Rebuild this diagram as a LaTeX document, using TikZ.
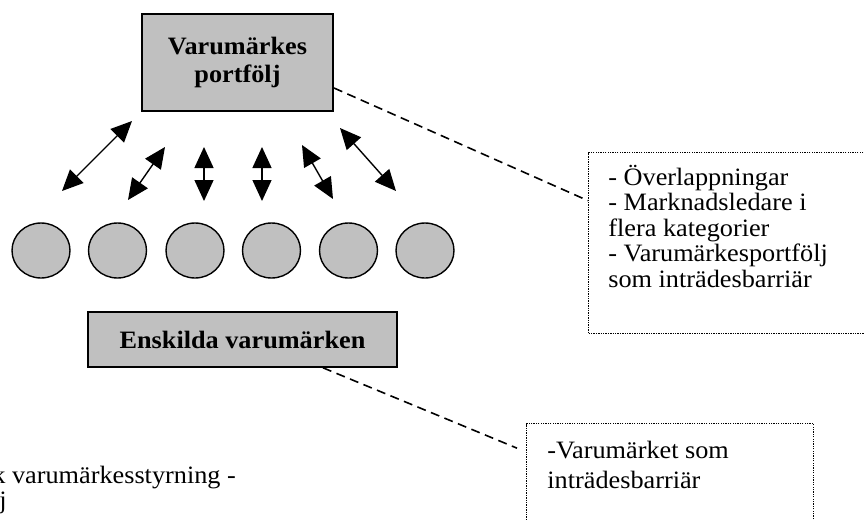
\documentclass[tikz,border=0pt]{standalone}
\usepackage{fontspec}
\setmainfont{Liberation Serif}[FakeStretch=1.05]
\usetikzlibrary{arrows.meta,positioning,shapes.geometric}
\definecolor{boxgray}{HTML}{C0C0C0}
\newcommand\notestrut{\rule{0pt}{10.5pt}}

\begin{document}
\begin{tikzpicture}[x=0.5pt,y=-0.5pt,
        font=\fontsize{12.5}{12.75}\selectfont,
        main box/.style={rectangle,draw,fill=boxgray,align=center,inner sep=0pt,
                         font=\fontsize{12.5}{14}\selectfont\bfseries},
        brand node/.style={ellipse,draw,fill=boxgray,line width=0.7pt,
                           minimum width=29pt,minimum height=27.5pt,inner sep=0pt},
        note box/.style={rectangle,draw,line width=0.65pt,dash pattern=on 0.65pt off 0.55pt,
                         anchor=north west,inner sep=0pt},
        note text/.style={anchor=north west,inner sep=0pt,align=left},
        link/.style={line width=0.7pt,
                     {Triangle[length=10.5pt,width=9.5pt]}-{Triangle[length=10.5pt,width=9.5pt]}},
        leader/.style={line width=0.8pt,dash pattern=on 4.5pt off 2.8pt}]
    \useasboundingbox (0,0) rectangle (864,520);

    % Boxes
    \node[main box,line width=1pt,minimum width=95.5pt,minimum height=48.5pt] (portfolio)
        at (237.5,62.5) {Varumärkes\\portfölj};
    \node[main box,line width=0.8pt,minimum width=154.5pt,minimum height=27.5pt] (single)
        at (242.5,339.5) {Enskilda varumärken};

    % Brands
    \foreach \x [count=\i] in {41,117.5,195,271.5,348.5,425}
        \node[brand node] (b\i) at (\x,250.5) {};

    % Arrows between brands and portfolio
    \foreach \i/\xa/\ya/\xb/\yb in {1/62/191/132/121, 2/128/200/165/147, 3/204/201/204/147,
                                    4/262/201/262/147, 5/333/199/302/145, 6/396/191/340/128} {
        \coordinate (lo\i) at (\xa,\ya);
        \coordinate (hi\i) at (\xb,\yb);
        \draw[link] (lo\i) -- (hi\i);
    }

    % Notes
    \node[note box,minimum width=156pt,minimum height=90.5pt] (note1) at (588,152) {};
    \node[note text,font=\fontsize{12.5}{12.75}\selectfont]
        (text1) at ([xshift=10pt,yshift=-6pt]note1.north west)
        {\notestrut- Överlappningar\\- Marknadsledare i\\flera kategorier\\- Varumärkesportfölj\\som inträdesbarriär};
    \node[note box,minimum width=143.5pt,minimum height=65pt] (note2) at (526,423) {};
    \node[note text,font=\fontsize{12.5}{15}\selectfont]
        (text2) at ([xshift=10.5pt,yshift=-7pt]note2.north west)
        {\notestrut-Varumärket som\\inträdesbarriär};

    \draw[leader] ([yshift=-12.75pt]portfolio.east) -- ([yshift=21.25pt]note1.west);
    \draw[leader] ([xshift=40.25pt]single.south) -- ([xshift=-4.5pt,yshift=20.25pt]note2.west);

    % Caption
    \node[anchor=base west,inner sep=0pt] (cap1) at (-8,483) {k varumärkesstyrning -};
    \node[anchor=base west,inner sep=0pt] (cap2) at (-1,508) {j};
\end{tikzpicture}
\end{document}
